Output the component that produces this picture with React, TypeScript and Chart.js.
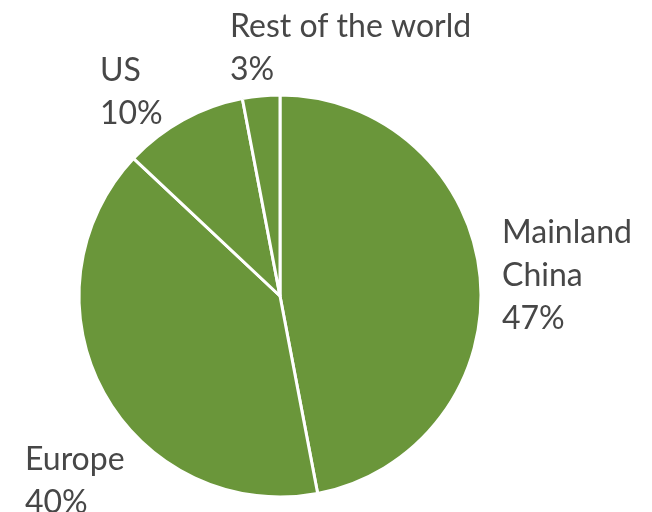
import React, { useEffect, useRef } from "react";
import { Chart, registerables } from "chart.js";

Chart.register(...registerables);

const categories = ["Mainland China", "Europe", "US", "Rest of the world"];
const shares = [47, 40, 10, 3];
const labelLines = [["Mainland", "China", "47%"], ["Europe", "40%"], ["US", "10%"], ["Rest of the world", "3%"]];

const GREEN = "#6A963A";

export default function App() {
  const ref = useRef<HTMLCanvasElement | null>(null);
  useEffect(() => {
    if (!ref.current) return;
    // label offsets relative to pie centre (dx, first baseline dy)
    const offsets: [number, number][] = [
      [222, -53],
      [-255, 174],
      [-180, -215],
      [-50, -259],
    ];
    const labelPlugin = {
      id: "sliceLabels",
      afterDraw(chart: any) {
        const meta = chart.getDatasetMeta(0);
        const arc = meta.data[0];
        if (!arc) return;
        const { x, y } = arc.getProps(["x", "y"], true);
        const ctx = chart.ctx;
        ctx.save();
        ctx.font = "32px Lato";
        ctx.fillStyle = "#474747";
        ctx.textAlign = "left";
        ctx.textBaseline = "alphabetic";
        labelLines.forEach((lines, i) => {
          const [dx, dy] = offsets[i];
          lines.forEach((t, j) => ctx.fillText(t, x + dx, y + dy + j * 43));
        });
        ctx.restore();
      },
    };
    const chart = new Chart(ref.current, {
      type: "pie",
      data: {
        labels: categories,
        datasets: [
          {
            data: shares,
            backgroundColor: GREEN,
            borderColor: "#ffffff",
            borderWidth: 3,
            radius: 201,
          },
        ],
      },
      options: {
        animation: false,
        responsive: false,
        layout: { padding: { left: 0, right: 92, top: 80, bottom: 0 } },
        plugins: { legend: { display: false }, tooltip: { enabled: false } },
      },
      plugins: [labelPlugin],
    });
    return () => chart.destroy();
  }, []);
  return (
    <div style={{ position: "fixed", left: 0, top: 0, width: 652, height: 512, background: "#fff" }}>
      <canvas ref={ref} width={652} height={512} />
    </div>
  );
}
